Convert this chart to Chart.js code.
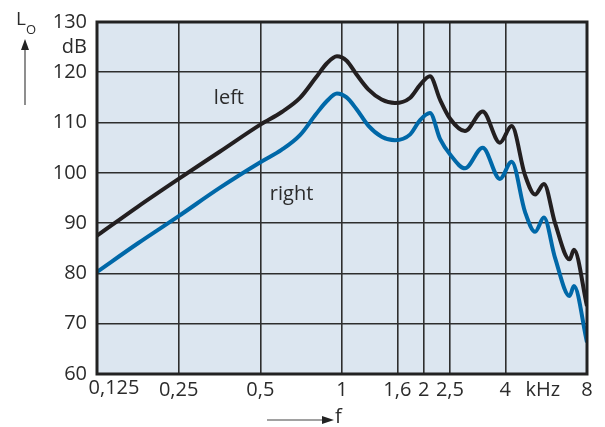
<!DOCTYPE html>
<html>
<head>
<meta charset="utf-8">
<script src="https://cdn.jsdelivr.net/npm/chart.js@4.4.1/dist/chart.umd.min.js"></script>
<style>
  html, body { margin: 0; padding: 0; background: #fff; }
  #wrap { width: 605px; height: 427px; position: relative; }
</style>
</head>
<body>
<div id="wrap"><canvas id="lineChart"></canvas></div>
<script>
// frequencies (kHz)
const freqs = [0.125, 0.177, 0.25, 0.354, 0.5, 0.6, 0.7, 0.8, 0.88, 0.958, 1.04, 1.13, 1.25, 1.4, 1.568, 1.78, 1.94, 2.11, 2.3, 2.5, 2.84, 3.3, 3.82, 4.22, 4.73, 5.15, 5.55, 6.1, 6.9, 7.16, 8];
// level (dB)
const leftLevel = [87.5, 93.3, 98.8, 104.2, 109.6, 112.1, 114.9, 118.9, 121.8, 123.2, 122.3, 119.6, 116.6, 114.6, 113.9, 114.9, 117.5, 119.2, 114.5, 110.8, 108.3, 112.2, 106.0, 109.3, 99.5, 95.7, 97.8, 90.0, 82.8, 84.7, 73.5];
const rightLevel = [80.3, 86.0, 91.4, 97.0, 102.1, 104.6, 107.5, 111.6, 114.3, 115.8, 115.0, 112.7, 109.4, 107.2, 106.5, 107.6, 110.5, 111.9, 106.7, 103.7, 100.9, 105.0, 98.8, 102.2, 92.2, 88.3, 91.1, 83.1, 75.5, 77.5, 66.3];

const xTicks = [0.125, 0.25, 0.5, 1, 1.6, 2, 2.5, 4, 5.5, 8];
const xTickLabels = ["", "0,25", "0,5", "1", "1,6", "2", "2,5", "4", "kHz", "8"];
const yTicks = [60, 70, 80, 90, 100, 110, 120, 125, 130];
const yTickLabels = ["60", "70", "80", "90", "100", "110", "120", "dB", "130"];

const FONT = "'Open Sans', 'Noto Sans', sans-serif";
const TEXT = "#2b2b2b";
const GRID = "#2e2e2e";

function toPoints(levels) {
    return freqs.map((f, i) => ({ x: f, y: levels[i] }));
}

// background of the plot area
const plotBg = {
    id: "plotBg",
    beforeDraw(chart) {
        const a = chart.chartArea;
        const c = chart.ctx;
        c.save();
        c.fillStyle = "#dce6f0";
        c.fillRect(a.left, a.top, a.right - a.left, a.bottom - a.top);
        c.restore();
    }
};

// frame, curve names and axis arrows
const extras = {
    id: "extras",
    afterDraw(chart) {
        const a = chart.chartArea;
        const c = chart.ctx;
        const sx = chart.scales.x;
        const sy = chart.scales.y;
        c.save();
        c.strokeStyle = "#222";
        c.lineWidth = 3;
        c.strokeRect(a.left, a.top, a.right - a.left, a.bottom - a.top);

        c.fillStyle = TEXT;
        c.font = "20px " + FONT;
        c.textAlign = "center";
        c.textBaseline = "middle";
        c.fillText("left", sx.getPixelForValue(0.383), sy.getPixelForValue(114.9));
        c.fillText("right", sx.getPixelForValue(0.652), sy.getPixelForValue(95.8));

        // first tick label sits right of its grid line
        c.textBaseline = "top";
        c.fillText("0,125", sx.getPixelForValue(0.125) + 17, a.bottom + 4);
        c.textBaseline = "middle";

        // L_O with arrow
        c.textAlign = "left";
        c.font = "19px " + FONT;
        c.fillText("L", 16, 20);
        c.font = "13px " + FONT;
        c.fillText("O", 26, 30);
        c.strokeStyle = "#444";
        c.lineWidth = 1.2;
        c.beginPath();
        c.moveTo(25, 48);
        c.lineTo(25, 105);
        c.stroke();
        c.fillStyle = "#222";
        c.beginPath();
        c.moveTo(25, 39);
        c.lineTo(21, 50);
        c.lineTo(29, 50);
        c.closePath();
        c.fill();

        // f arrow
        c.beginPath();
        c.moveTo(267, 420);
        c.lineTo(324, 420);
        c.stroke();
        c.beginPath();
        c.moveTo(334, 420);
        c.lineTo(322, 416);
        c.lineTo(322, 424);
        c.closePath();
        c.fill();
        c.fillStyle = TEXT;
        c.font = "20px " + FONT;
        c.fillText("f", 335, 417);
        c.restore();
    }
};

document.addEventListener("DOMContentLoaded", function () {
    const ctx = document.getElementById("lineChart").getContext("2d");
    new Chart(ctx, {
        type: "line",
        data: {
            datasets: [
                {
                    label: "left",
                    data: toPoints(leftLevel),
                    borderColor: "#231f20",
                    borderWidth: 4,
                    pointRadius: 0,
                    cubicInterpolationMode: "monotone"
                },
                {
                    label: "right",
                    data: toPoints(rightLevel),
                    borderColor: "#0068a8",
                    borderWidth: 4,
                    pointRadius: 0,
                    cubicInterpolationMode: "monotone"
                }
            ]
        },
        options: {
            responsive: true,
            maintainAspectRatio: false,
            animation: false,
            layout: { padding: { left: 0, right: 18, top: 18, bottom: 0 } },
            plugins: { legend: { display: false }, tooltip: { enabled: false } },
            scales: {
                x: {
                    type: "logarithmic",
                    min: 0.125,
                    max: 8,
                    afterBuildTicks: (scale) => { scale.ticks = xTicks.map(v => ({ value: v })); },
                    afterFit: (scale) => { scale.height = 53; },
                    border: { display: false },
                    grid: {
                        drawTicks: false,
                        lineWidth: 1.6,
                        color: (c) => (c.tick && c.tick.value === 5.5) ? "rgba(0,0,0,0)" : GRID
                    },
                    ticks: {
                        autoSkip: false,
                        maxRotation: 0,
                        padding: 4,
                        color: TEXT,
                        font: { family: FONT, size: 20 },
                        callback: (v, i) => xTickLabels[i]
                    }
                },
                y: {
                    min: 60,
                    max: 130,
                    afterBuildTicks: (scale) => { scale.ticks = yTicks.map(v => ({ value: v })); },
                    afterFit: (scale) => { scale.width = 97; },
                    border: { display: false },
                    grid: {
                        drawTicks: false,
                        lineWidth: 1.6,
                        color: (c) => (c.tick && c.tick.value === 125) ? "rgba(0,0,0,0)" : GRID
                    },
                    ticks: {
                        autoSkip: false,
                        padding: 10,
                        color: TEXT,
                        font: { family: FONT, size: 20 },
                        callback: (v, i) => yTickLabels[i]
                    }
                }
            }
        },
        plugins: [plotBg, extras]
    });
});
</script>
</body>
</html>
